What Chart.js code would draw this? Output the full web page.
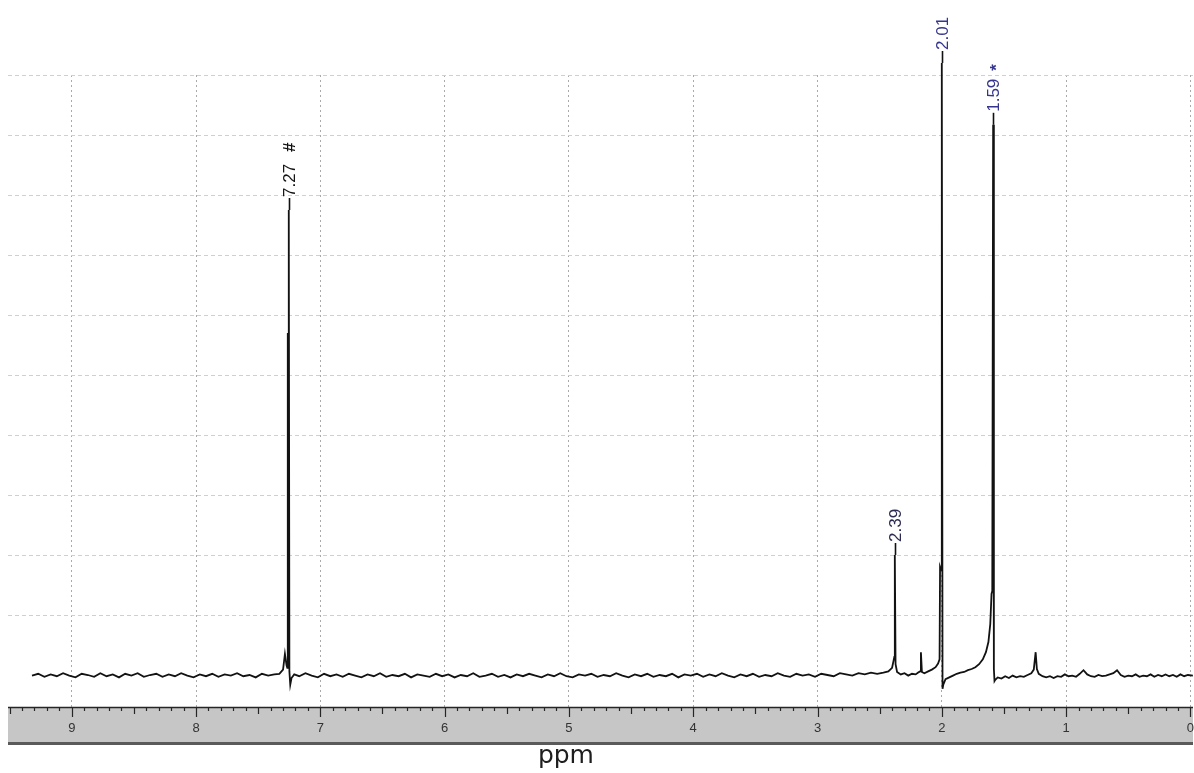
<!DOCTYPE html>
<html>
<head>
<meta charset="utf-8">
<script src="https://cdn.jsdelivr.net/npm/chart.js@4/dist/chart.umd.min.js"></script>
<style>
  html, body { margin: 0; padding: 0; background: #fff; }
  #c { display: block; }
</style>
</head>
<body>
<canvas id="c" width="1194" height="773"></canvas>
<script>
// ---------- DATA (chemical shift in ppm, intensity in arbitrary units) ----------
const region1Ppm = [9.32,9.27,9.22,9.17,9.12,9.07,9.02,8.97,8.92,8.87,8.82,8.77,8.72,8.67,8.62,8.57,8.52,8.47,8.42,8.37,
  8.32,8.27,8.22,8.17,8.12,8.07,8.02,7.97,7.92,7.87,7.82,7.77,7.72,7.67,7.62,7.57,7.52,7.47,7.42,7.37];
const region1Int = [-0.1,0.2,-0.3,0.1,-0.2,0.3,-0.1,-0.4,0.2,0.0,-0.3,0.3,-0.2,0.1,-0.4,0.2,-0.1,0.3,-0.3,0.0,
  0.2,-0.3,0.1,-0.2,0.3,-0.1,-0.4,0.1,-0.2,0.2,-0.3,0.1,-0.1,0.3,-0.2,0.0,-0.4,0.2,-0.1,0.1];

const region2Ppm = [7.33,7.30,7.285,7.272,7.266,7.262,7.258,7.254,7.249,7.242,7.232,7.21];
const region2Int = [0.2,0.9,3.5,1.6,1.2,57,56,77.5,0.6,-1.6,-0.5,0.1];

const region3Ppm = [7.17,7.12,7.07,7.02,6.97,6.92,6.87,6.82,6.77,6.72,
  6.67,6.62,6.57,6.52,6.47,6.42,6.37,6.32,6.27,6.22,
  6.17,6.12,6.07,6.02,5.97,5.92,5.87,5.82,5.77,5.72,
  5.67,5.62,5.57,5.52,5.47,5.42,5.37,5.32,5.27,5.22,
  5.17,5.12,5.07,5.02,4.97,4.92,4.87,4.82,4.77,4.72,
  4.67,4.62,4.57,4.52,4.47,4.42,4.37,4.32,4.27,4.22,
  4.17,4.12,4.07,4.02,3.97,3.92,3.87,3.82,3.77,3.72,
  3.67,3.62,3.57,3.52,3.47,3.42,3.37,3.32,3.27,3.22,
  3.17,3.12,3.07,3.02,2.97,2.92,2.87,2.82,2.77,2.72,
  2.67,2.62,2.57,2.52,2.47];
const region3Int = [-0.2,0.3,-0.1,-0.4,0.2,-0.2,0.1,-0.3,0.2,-0.1,
  -0.4,0.1,-0.2,0.3,-0.3,0.0,-0.2,0.2,-0.4,0.1,
  -0.1,-0.3,0.2,-0.2,0.1,-0.4,0.0,-0.2,0.3,-0.3,
  -0.1,0.2,-0.3,0.0,-0.4,0.1,-0.2,0.2,-0.1,-0.4,
  0.1,-0.2,0.3,-0.2,-0.4,0.1,-0.1,0.2,-0.3,0.0,
  -0.2,0.3,-0.1,-0.4,0.1,-0.2,0.2,-0.3,0.0,-0.2,
  0.2,-0.4,0.1,-0.1,0.2,-0.3,0.1,-0.2,0.3,-0.1,
  -0.4,0.1,-0.2,0.2,-0.3,0.0,-0.2,0.3,-0.1,-0.3,
  0.2,-0.1,0.1,-0.3,0.2,0.0,-0.2,0.3,0.1,-0.1,
  0.3,0.1,0.4,0.2,0.4];

const region4Ppm = [2.43,2.40,2.388,2.382,2.378,2.372,2.36,2.33,2.30,2.27,2.24,2.21,2.19,2.175,2.168,2.16,2.14,2.11,2.08,2.05,
  2.03,2.018,2.014,2.006,2.000,1.994,1.988,1.97,1.94,1.91,1.88,1.85,1.82,1.79,1.76,1.73,1.70,1.67,1.645,1.625,
  1.61,1.600,1.594,1.587,1.581,1.576,1.57,1.55,1.52,1.49,1.46,1.43,1.40,1.37,1.34,1.31,1.28,1.26,1.245,1.235,1.22];
const region4Int = [0.6,1.2,2.4,3.0,20,1.8,0.5,0.1,0.3,-0.1,0.2,0.1,0.4,0.6,3.8,0.5,0.3,0.6,0.9,1.3,
  1.9,2.6,18,17.5,102,-2.3,-1.6,-0.7,-0.4,-0.1,0.2,0.4,0.5,0.8,1.0,1.3,1.8,2.6,3.8,5.5,
  8.5,13.5,14,91.7,1.0,-1.0,-0.8,-0.4,-0.6,-0.2,-0.5,-0.1,-0.4,-0.2,-0.3,0.0,0.3,0.9,3.8,1.0,0.2];

const region5Ppm = [1.19,1.16,1.13,1.10,1.07,1.04,1.01,0.98,0.95,0.92,0.89,0.86,0.83,0.80,0.77,0.74,0.71,0.68,0.65,0.62,
  0.59,0.56,0.53,0.50,0.47,0.44,0.41,0.38,0.35,0.32,0.29,0.26,0.23,0.20,0.17,0.14,0.11,0.08,0.05,0.02,-0.02];
const region5Int = [-0.2,-0.4,-0.2,-0.5,-0.2,-0.3,0.1,-0.2,-0.1,-0.3,0.2,0.8,0.1,-0.2,-0.3,0.0,-0.2,-0.1,0.1,0.3,
  0.8,0.0,-0.3,-0.1,-0.2,0.1,-0.3,-0.1,-0.2,0.1,-0.3,0.0,-0.2,0.1,-0.2,0.0,-0.3,0.1,-0.2,0.0,-0.1];

// peak annotations
const peakLabels = ['7.27', '2.39', '2.01', '1.59'];
const peakPpm    = [7.254, 2.378, 2.000, 1.587];
const peakMarks  = ['#', '', '', '*'];
const peakColors = ['#151515', '#2c2c52', '#35358e', '#35358e'];

// axis
const axisTitle = 'ppm';
const xMin = -0.021, xMax = 9.513;
const yMin = -5.333, yMax = 100;

// ---------- build ----------
const allPpm = [].concat(region1Ppm, region2Ppm, region3Ppm, region4Ppm, region5Ppm);
const allInt = [].concat(region1Int, region2Int, region3Int, region4Int, region5Int);
const points = allPpm.map((p, i) => ({ x: p, y: allInt[i] }));

function isInt(v) { return Math.abs(v - Math.round(v)) < 1e-6; }
function isHalf(v) { return Math.abs(v * 2 - Math.round(v * 2)) < 1e-6 && !isInt(v); }

const FONT = "'Liberation Sans', Arial, sans-serif";

const decor = {
  id: 'decor',
  beforeDraw(chart) {
    const { ctx } = chart;
    const xs = chart.scales.x;
    ctx.save();
    ctx.fillStyle = '#ffffff';
    ctx.fillRect(0, 0, chart.width, chart.height);
    const top = xs.top;
    ctx.fillStyle = '#c6c6c6';
    ctx.fillRect(xs.left, top, xs.right - xs.left, 38);
    ctx.fillStyle = '#5a5a5a';
    ctx.fillRect(xs.left, top + 35, xs.right - xs.left, 3);
    ctx.restore();
  },
  afterDraw(chart) {
    const { ctx } = chart;
    const xs = chart.scales.x, ys = chart.scales.y;
    ctx.save();
    // axis line at top of band
    ctx.strokeStyle = '#262626';
    ctx.lineWidth = 1.3;
    ctx.beginPath();
    ctx.moveTo(xs.left, xs.top + 0.5);
    ctx.lineTo(xs.right, xs.top + 0.5);
    ctx.stroke();
    // tick marks: minor every 0.1, longer at half and integer values
    ctx.lineWidth = 1.2;
    xs.ticks.forEach(t => {
      const v = t.value;
      let len = 4;
      if (isInt(v)) len = 10; else if (isHalf(v)) len = 7;
      const px = Math.round(xs.getPixelForValue(v)) + 0.5;
      ctx.beginPath();
      ctx.moveTo(px, xs.top);
      ctx.lineTo(px, xs.top + len);
      ctx.stroke();
    });
    // axis title
    ctx.fillStyle = '#1e1e1e';
    ctx.font = "25px 'DejaVu Sans', sans-serif";
    ctx.textAlign = 'center';
    ctx.textBaseline = 'alphabetic';
    ctx.fillText(axisTitle, xs.getPixelForValue(5) - 3, 763);

    // peak labels
    peakLabels.forEach((lab, i) => {
      const p = peakPpm[i];
      let h = -Infinity;
      allPpm.forEach((q, j) => { if (Math.abs(q - p) < 0.004) h = Math.max(h, allInt[j]); });
      const px = Math.round(xs.getPixelForValue(p)) + 0.5;
      const topY = ys.getPixelForValue(h);
      const lead = 12;
      ctx.strokeStyle = '#111';
      ctx.lineWidth = 1.6;
      ctx.beginPath();
      ctx.moveTo(px, topY);
      ctx.lineTo(px, topY - lead);
      ctx.stroke();
      ctx.save();
      ctx.translate(px, topY - lead - 1);
      ctx.rotate(-Math.PI / 2);
      ctx.font = '17px ' + FONT;
      ctx.textAlign = 'left';
      ctx.textBaseline = 'middle';
      ctx.fillStyle = peakColors[i];
      ctx.fillText(lab, 0, 1);
      if (peakMarks[i]) {
        const w = ctx.measureText(lab).width;
        ctx.font = 'bold 17px ' + FONT;
        ctx.fillStyle = peakMarks[i] === '#' ? '#111' : peakColors[i];
        ctx.fillText(peakMarks[i], w + (peakMarks[i] === '#' ? 12 : 8), peakMarks[i] === '*' ? 4 : 1);
      }
      ctx.restore();
    });
    ctx.restore();
  }
};

new Chart(document.getElementById('c').getContext('2d'), {
  type: 'line',
  data: {
    datasets: [{
      data: points,
      borderColor: '#121212',
      borderWidth: 1.8,
      pointRadius: 0,
      tension: 0,
      fill: false,
      clip: false
    }]
  },
  options: {
    responsive: false,
    animation: false,
    devicePixelRatio: 1,
    layout: { autoPadding: false, padding: { left: 8, right: 0, top: 75, bottom: 36.4 } },
    plugins: { legend: { display: false }, tooltip: { enabled: false } },
    scales: {
      x: {
        type: 'linear',
        reverse: true,
        min: xMin,
        max: xMax,
        position: 'bottom',
        border: { display: false, dash: [2, 3] },
        grid: {
          color: ctx => (ctx.tick && isInt(ctx.tick.value)) ? '#aaaaaa' : 'rgba(0,0,0,0)',
          lineWidth: 1,
          tickLength: 14,
          tickColor: 'rgba(0,0,0,0)',
          tickWidth: 1,
          tickBorderDash: []
        },
        ticks: {
          stepSize: 0.1,
          autoSkip: false,
          includeBounds: false,
          maxRotation: 0,
          padding: 0,
          color: '#333',
          font: { family: FONT, size: 13 },
          callback: v => isInt(v) ? String(Math.round(v)) : ''
        }
      },
      y: {
        type: 'linear',
        min: yMin,
        max: yMax,
        border: { display: false, dash: [4, 3] },
        grid: {
          color: ctx => (ctx.tick && ctx.tick.value > 0.5) ? '#cfcfcf' : 'rgba(0,0,0,0)',
          drawTicks: false,
          lineWidth: 1
        },
        ticks: { display: false, stepSize: 10, includeBounds: false }
      }
    }
  },
  plugins: [decor]
});
</script>
</body>
</html>
